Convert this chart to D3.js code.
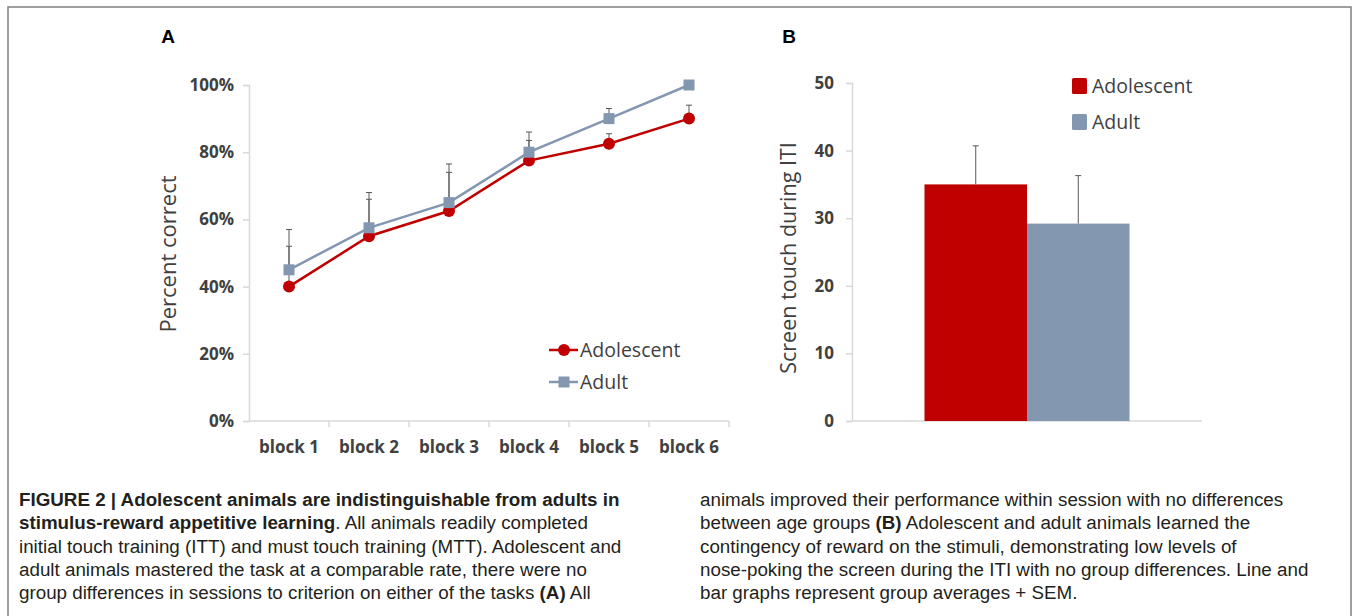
<!DOCTYPE html>
<html>
<head>
<meta charset="utf-8">
<script src="https://cdn.jsdelivr.net/npm/d3@7"></script>
<style>
  body { margin: 0; background: #fff; }
  svg { display: block; }
</style>
</head>
<body>
<div id="chart"></div>
<script>
// data, panel A
var blocks = ["block 1", "block 2", "block 3", "block 4", "block 5", "block 6"];
var adolescentPct = [40, 55, 62.5, 77.5, 82.5, 90];
var adolescentErr = [52, 66, 74, 83.5, 85.5, 94];
var adultPct = [45, 57.5, 65, 80, 90, 100];
var adultErr = [57, 68, 76.5, 86, 93, 100];
var pctTicks = [0, 20, 40, 60, 80, 100];

// data, panel B
var groups = ["Adolescent", "Adult"];
var itiTouch = [35, 29.2];
var itiErr = [40.7, 36.3];
var itiTicks = [0, 10, 20, 30, 40, 50];

var red = "#c00000";
var blue = "#8497b0";
var textCol = "#404040";
var axisCol = "#d9d9d9";
var tickFont = "'Open Sans', 'Liberation Sans', sans-serif";

var svg = d3.select("#chart").append("svg")
    .attr("width", 1354)
    .attr("height", 616);

// frame
svg.append("rect")
    .attr("x", 8).attr("y", 7)
    .attr("width", 1343).attr("height", 700)
    .attr("fill", "none")
    .attr("stroke", "#808080")
    .attr("stroke-width", 1.5);

// ---------- panel A ----------
var xA = d3.scaleBand().domain(blocks).range([249, 729]);
var yA = d3.scaleLinear().domain([0, 100]).range([421, 85]);

svg.append("text")
    .attr("x", 168).attr("y", 43)
    .attr("text-anchor", "middle")
    .style("font-family", "'Liberation Sans', Arial, sans-serif")
    .style("font-weight", "bold")
    .style("font-size", "19px")
    .text("A");

var yAxisA = svg.append("g")
    .attr("transform", "translate(249,0)")
    .call(d3.axisLeft(yA).tickValues(pctTicks).tickSize(6).tickPadding(9)
        .tickFormat(function(d) { return d + "%"; }));

var xAxisA = svg.append("g")
    .attr("transform", "translate(0,421)")
    .call(d3.axisBottom(xA).tickSize(0).tickPadding(20));

// x tick marks at the band edges
svg.append("g").selectAll("line")
    .data(blocks)
    .enter()
    .append("line")
        .attr("x1", function(d) { return xA(d) + xA.bandwidth(); })
        .attr("x2", function(d) { return xA(d) + xA.bandwidth(); })
        .attr("y1", 421).attr("y2", 427)
        .attr("stroke", axisCol)
        .attr("stroke-width", 1.5);

svg.append("text")
    .attr("transform", "translate(176,254) rotate(-90)")
    .attr("text-anchor", "middle")
    .style("font-family", tickFont)
    .style("font-size", "22px")
    .attr("fill", textCol)
    .text("Percent correct");

// error bars (up only)
function errBars(vals, errs) {
    var g = svg.append("g").attr("stroke", "#595959").attr("stroke-width", 1);
    blocks.forEach(function(b, i) {
        var cx = xA(b) + xA.bandwidth() / 2;
        if (errs[i] <= vals[i]) return;
        g.append("line")
            .attr("x1", cx).attr("x2", cx)
            .attr("y1", yA(vals[i])).attr("y2", yA(errs[i]));
        g.append("line")
            .attr("x1", cx - 3).attr("x2", cx + 3)
            .attr("y1", yA(errs[i])).attr("y2", yA(errs[i]));
    });
}
errBars(adultPct, adultErr);
errBars(adolescentPct, adolescentErr);

var line = d3.line()
    .x(function(d, i) { return xA(blocks[i]) + xA.bandwidth() / 2; })
    .y(function(d) { return yA(d); });

svg.append("path")
    .datum(adolescentPct)
    .attr("d", line)
    .attr("fill", "none")
    .attr("stroke", red)
    .attr("stroke-width", 2.5);

svg.selectAll(".adol")
    .data(adolescentPct)
    .enter()
    .append("circle")
        .attr("cx", function(d, i) { return xA(blocks[i]) + xA.bandwidth() / 2; })
        .attr("cy", function(d) { return yA(d); })
        .attr("r", 6)
        .attr("fill", red);

svg.append("path")
    .datum(adultPct)
    .attr("d", line)
    .attr("fill", "none")
    .attr("stroke", blue)
    .attr("stroke-width", 2.5);

svg.selectAll(".adul")
    .data(adultPct)
    .enter()
    .append("rect")
        .attr("x", function(d, i) { return xA(blocks[i]) + xA.bandwidth() / 2 - 5.5; })
        .attr("y", function(d) { return yA(d) - 5.5; })
        .attr("width", 11).attr("height", 11)
        .attr("fill", blue);

// legend A
var legA = svg.append("g");
[[red, "Adolescent", 350], [blue, "Adult", 382]].forEach(function(it) {
    legA.append("line")
        .attr("x1", 549).attr("x2", 578)
        .attr("y1", it[2]).attr("y2", it[2])
        .attr("stroke", it[0]).attr("stroke-width", 2.5);
    if (it[1] == "Adolescent") {
        legA.append("circle").attr("cx", 564).attr("cy", it[2]).attr("r", 6).attr("fill", it[0]);
    } else {
        legA.append("rect").attr("x", 558.5).attr("y", it[2] - 5.5)
            .attr("width", 11).attr("height", 11).attr("fill", it[0]);
    }
    legA.append("text")
        .attr("x", 580).attr("y", it[2] + 7)
        .style("font-family", tickFont)
        .style("font-size", "19.5px")
        .attr("fill", textCol)
        .text(it[1]);
});

// ---------- panel B ----------
var xB = d3.scaleBand().domain(groups).range([852, 1202])
    .paddingInner(0).paddingOuter(0.707);
var yB = d3.scaleLinear().domain([0, 50]).range([421, 83]);

svg.append("text")
    .attr("x", 789).attr("y", 43)
    .attr("text-anchor", "middle")
    .style("font-family", "'Liberation Sans', Arial, sans-serif")
    .style("font-weight", "bold")
    .style("font-size", "19px")
    .text("B");

var yAxisB = svg.append("g")
    .attr("transform", "translate(852,0)")
    .call(d3.axisLeft(yB).tickValues(itiTicks).tickSize(6).tickPadding(12));

svg.append("line")
    .attr("x1", 852).attr("x2", 1202)
    .attr("y1", 421).attr("y2", 421)
    .attr("stroke", axisCol).attr("stroke-width", 1.5);

svg.append("text")
    .attr("transform", "translate(796,258) rotate(-90)")
    .attr("text-anchor", "middle")
    .style("font-family", tickFont)
    .style("font-size", "21.5px")
    .attr("fill", textCol)
    .text("Screen touch during ITI");

var barColors = [red, blue];

svg.selectAll(".bar")
    .data(itiTouch)
    .enter()
    .append("rect")
        .attr("x", function(d, i) { return xB(groups[i]); })
        .attr("y", function(d) { return yB(d); })
        .attr("width", xB.bandwidth())
        .attr("height", function(d) { return 421 - yB(d); })
        .attr("fill", function(d, i) { return barColors[i]; });

var errB = svg.append("g").attr("stroke", "#595959").attr("stroke-width", 1);
itiTouch.forEach(function(v, i) {
    var cx = xB(groups[i]) + xB.bandwidth() / 2;
    errB.append("line").attr("x1", cx).attr("x2", cx)
        .attr("y1", yB(v)).attr("y2", yB(itiErr[i]));
    errB.append("line").attr("x1", cx - 3).attr("x2", cx + 3)
        .attr("y1", yB(itiErr[i])).attr("y2", yB(itiErr[i]));
});

// legend B
groups.forEach(function(g, i) {
    var ly = 86 + i * 36;
    svg.append("rect")
        .attr("x", 1072).attr("y", ly - 8)
        .attr("width", 15).attr("height", 16)
        .attr("rx", 1.5)
        .attr("fill", barColors[i]);
    svg.append("text")
        .attr("x", 1092).attr("y", ly + 7)
        .style("font-family", tickFont)
        .style("font-size", "19.5px")
        .attr("fill", textCol)
        .text(g);
});

// axis styling
[yAxisA, xAxisA, yAxisB].forEach(function(ax) {
    ax.select(".domain").attr("stroke", axisCol).attr("stroke-width", 1.5);
    ax.selectAll(".tick line").attr("stroke", axisCol).attr("stroke-width", 1.5);
    ax.selectAll(".tick text")
        .attr("fill", textCol)
        .style("font-family", tickFont)
        .style("font-weight", "bold")
        .style("font-size", "17px");
});
xAxisA.select(".domain").attr("d", "M249,0H729");

// ---------- caption ----------
var capLeft = [
    [["b", "FIGURE 2 | Adolescent animals are indistinguishable from adults in"]],
    [["b", "stimulus-reward appetitive learning"], ["n", ". All animals readily completed"]],
    [["n", "initial touch training (ITT) and must touch training (MTT). Adolescent and"]],
    [["n", "adult animals mastered the task at a comparable rate, there were no"]],
    [["n", "group differences in sessions to criterion on either of the tasks "], ["b", "(A)"], ["n", " All"]]
];
var capRight = [
    [["n", "animals improved their performance within session with no differences"]],
    [["n", "between age groups "], ["b", "(B)"], ["n", " Adolescent and adult animals learned the"]],
    [["n", "contingency of reward on the stimuli, demonstrating low levels of"]],
    [["n", "nose-poking the screen during the ITI with no group differences. Line and"]],
    [["n", "bar graphs represent group averages + SEM."]]
];

function caption(lines, x0) {
    lines.forEach(function(segs, i) {
        var t = svg.append("text")
            .attr("x", x0).attr("y", 506 + i * 23.3)
            .style("font-family", "'Liberation Sans', Arial, sans-serif")
            .style("font-size", "18.8px")
            .attr("fill", "#231f20");
        segs.forEach(function(s) {
            t.append("tspan")
                .style("font-weight", s[0] == "b" ? "bold" : "normal")
                .text(s[1]);
        });
    });
}
caption(capLeft, 19);
caption(capRight, 700);
</script>
</body>
</html>
